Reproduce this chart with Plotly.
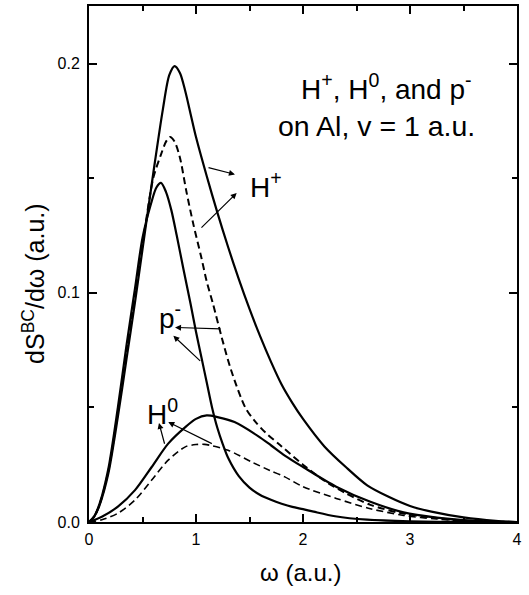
import plotly.graph_objects as go

# ---- data ----
hp_solid_w = [0, 0.05, 0.10, 0.18, 0.27, 0.35, 0.43, 0.50, 0.60, 0.69, 0.75, 0.80, 0.85, 0.90, 0.95, 1.00, 1.10, 1.20, 1.30, 1.40, 1.50, 1.60, 1.70, 1.80, 1.90, 2.00, 2.20, 2.40, 2.60, 2.80, 3.00, 3.20, 3.50, 3.80, 4.00]
hp_solid_y = [0, 0.0024, 0.0075, 0.021, 0.046, 0.071, 0.096, 0.119, 0.152, 0.180, 0.195, 0.199, 0.196, 0.188, 0.178, 0.168, 0.151, 0.135, 0.120, 0.106, 0.093, 0.081, 0.070, 0.060, 0.052, 0.045, 0.033, 0.024, 0.016, 0.011, 0.007, 0.0045, 0.002, 0.0005, 0.0]

dash_w = [0, 0.05, 0.10, 0.18, 0.27, 0.35, 0.43, 0.50, 0.60, 0.67, 0.72, 0.757, 0.80, 0.85, 0.91, 0.975, 1.05, 1.10, 1.16, 1.24, 1.33, 1.46, 1.55, 1.65, 1.80, 2.00, 2.20, 2.40, 2.63, 2.90, 3.10, 3.40, 3.70, 4.00]
dash_y = [0, 0.0025, 0.0078, 0.022, 0.048, 0.074, 0.099, 0.121, 0.150, 0.160, 0.166, 0.168, 0.166, 0.159, 0.1443, 0.130, 0.1154, 0.105, 0.095, 0.0806, 0.066, 0.050, 0.044, 0.039, 0.033, 0.025, 0.018, 0.0125, 0.0075, 0.0040, 0.0026, 0.001, 0.0003, 0.0]

pm_solid_w = [0, 0.05, 0.10, 0.18, 0.27, 0.35, 0.43, 0.50, 0.58, 0.63, 0.673, 0.72, 0.77, 0.82, 0.88, 0.95, 1.00, 1.05, 1.10, 1.15, 1.20, 1.25, 1.30, 1.40, 1.50, 1.60, 1.70, 1.80, 1.90, 2.00, 2.10, 2.30, 2.60, 3.00, 3.50, 4.00]
pm_solid_y = [0, 0.0026, 0.0081, 0.023, 0.050, 0.077, 0.102, 0.124, 0.139, 0.146, 0.148, 0.144, 0.136, 0.125, 0.111, 0.095, 0.083, 0.072, 0.061, 0.050, 0.041, 0.034, 0.028, 0.020, 0.015, 0.0118, 0.0097, 0.0080, 0.0066, 0.0056, 0.0045, 0.0025, 0.001, 0.0003, 0.0, 0.0]

h0_solid_w = [0, 0.12, 0.27, 0.43, 0.586, 0.74, 0.90, 1.00, 1.10, 1.20, 1.36, 1.58, 1.70, 1.83, 2.00, 2.31, 2.63, 2.94, 3.25, 3.56, 3.90, 4.00]
h0_solid_y = [0, 0.0023, 0.0067, 0.0139, 0.024, 0.0342, 0.0414, 0.045, 0.0465, 0.0458, 0.0436, 0.0375, 0.0335, 0.029, 0.024, 0.0154, 0.0088, 0.0042, 0.0019, 0.0006, 0.0, 0.0]

h0_dash_w = [0, 0.12, 0.27, 0.43, 0.586, 0.74, 0.90, 1.00, 1.08, 1.30, 1.52, 1.69, 1.83, 2.00, 2.31, 2.63, 2.94, 3.25, 3.60, 4.00]
h0_dash_y = [0, 0.001, 0.0038, 0.0096, 0.0183, 0.027, 0.0328, 0.0338, 0.0339, 0.0313, 0.0262, 0.0225, 0.0197, 0.0154, 0.0103, 0.0058, 0.0029, 0.0013, 0.0003, 0.0]

x_ticks = [0, 1, 2, 3, 4]
y_ticks = [0.0, 0.1, 0.2]

fig = go.Figure()

def add_line(w, y, dash, width):
    fig.add_trace(go.Scatter(x=w, y=y, mode="lines",
                             line=dict(color="black", width=width, dash=dash,
                                       shape="spline", smoothing=0.8),
                             showlegend=False, hoverinfo="skip"))

add_line(hp_solid_w, hp_solid_y, "solid", 2.2)
add_line(pm_solid_w, pm_solid_y, "solid", 2.2)
add_line(h0_solid_w, h0_solid_y, "solid", 2.2)
add_line(dash_w, dash_y, "7px,4px", 2.0)
add_line(h0_dash_w, h0_dash_y, "7px,4px", 1.6)

font_main = "Liberation Sans, Arial, sans-serif"

# arrows: (tail_w, tail_y, head_w, head_y)
arrows = [
    (1.103, 0.1548, 1.364, 0.1517),
    (1.037, 0.1278, 1.380, 0.1436),
    (1.243, 0.0843, 0.804, 0.0849),
    (1.053, 0.0697, 0.788, 0.0813),
    (0.710, 0.0335, 0.654, 0.0432),
    (1.162, 0.0339, 0.741, 0.0436),
]
for tw, ty, hw, hy in arrows:
    fig.add_annotation(x=hw, y=hy, ax=tw, ay=ty, xref="x", yref="y",
                       axref="x", ayref="y", text="", showarrow=True,
                       arrowhead=2, arrowsize=1.0, arrowwidth=1.2,
                       arrowcolor="black")

labels = [
    ("H<sup>+</sup>, H<sup>0</sup>, and p<sup>-</sup>", 2.776, 0.1900, "center", 28),
    ("on Al, v = 1 a.u.", 2.69, 0.1727, "center", 28.5),
    ("H<sup>+</sup>", 1.486, 0.1470, "left", 28),
    ("p<sup>-</sup>", 0.636, 0.0900, "left", 28),
    ("H<sup>0</sup>", 0.523, 0.0482, "left", 28),
]
for txt, xw, yy, anchor, fs in labels:
    fig.add_annotation(x=xw, y=yy, xref="x", yref="y", text=txt,
                       showarrow=False, xanchor=anchor, yanchor="middle",
                       font=dict(family=font_main, size=fs, color="black"))

# axis titles
fig.add_annotation(x=-0.130, y=0.462, xref="paper", yref="paper",
                   text="dS<sup>BC</sup>/dω (a.u.)", textangle=-90,
                   showarrow=False, xanchor="center", yanchor="middle",
                   font=dict(family=font_main, size=25, color="black"))
fig.add_annotation(x=0.495, y=-0.098, xref="paper", yref="paper",
                   text="ω (a.u.)", showarrow=False,
                   xanchor="center", yanchor="middle",
                   font=dict(family=font_main, size=24, color="black"))

axis_common = dict(showgrid=False, zeroline=False, showline=True,
                   linecolor="black", linewidth=2, mirror="allticks",
                   ticks="inside", ticklen=8, tickwidth=1.5, tickcolor="black",
                   tickfont=dict(family=font_main, size=16, color="black"))

fig.update_xaxes(range=[0, 4], tickvals=x_ticks, ticktext=[str(v) for v in x_ticks],
                 ticklabelstandoff=2,
                 minor=dict(ticks="inside", ticklen=5, tickwidth=1.5, dtick=0.5, tickcolor="black"),
                 **axis_common)
fig.update_yaxes(range=[0, 0.2252], tickvals=y_ticks, ticktext=["%.1f" % v for v in y_ticks],
                 ticklabelstandoff=4,
                 minor=dict(ticks="inside", ticklen=5, tickwidth=1.5, dtick=0.05, tickcolor="black"),
                 **axis_common)

fig.update_layout(width=529, height=595, plot_bgcolor="white", paper_bgcolor="white",
                  margin=dict(l=89, r=12, t=4, b=73), showlegend=False)

fig.write_html("out.html", config={"displayModeBar": False},
               post_script="document.body.style.margin='0';")
